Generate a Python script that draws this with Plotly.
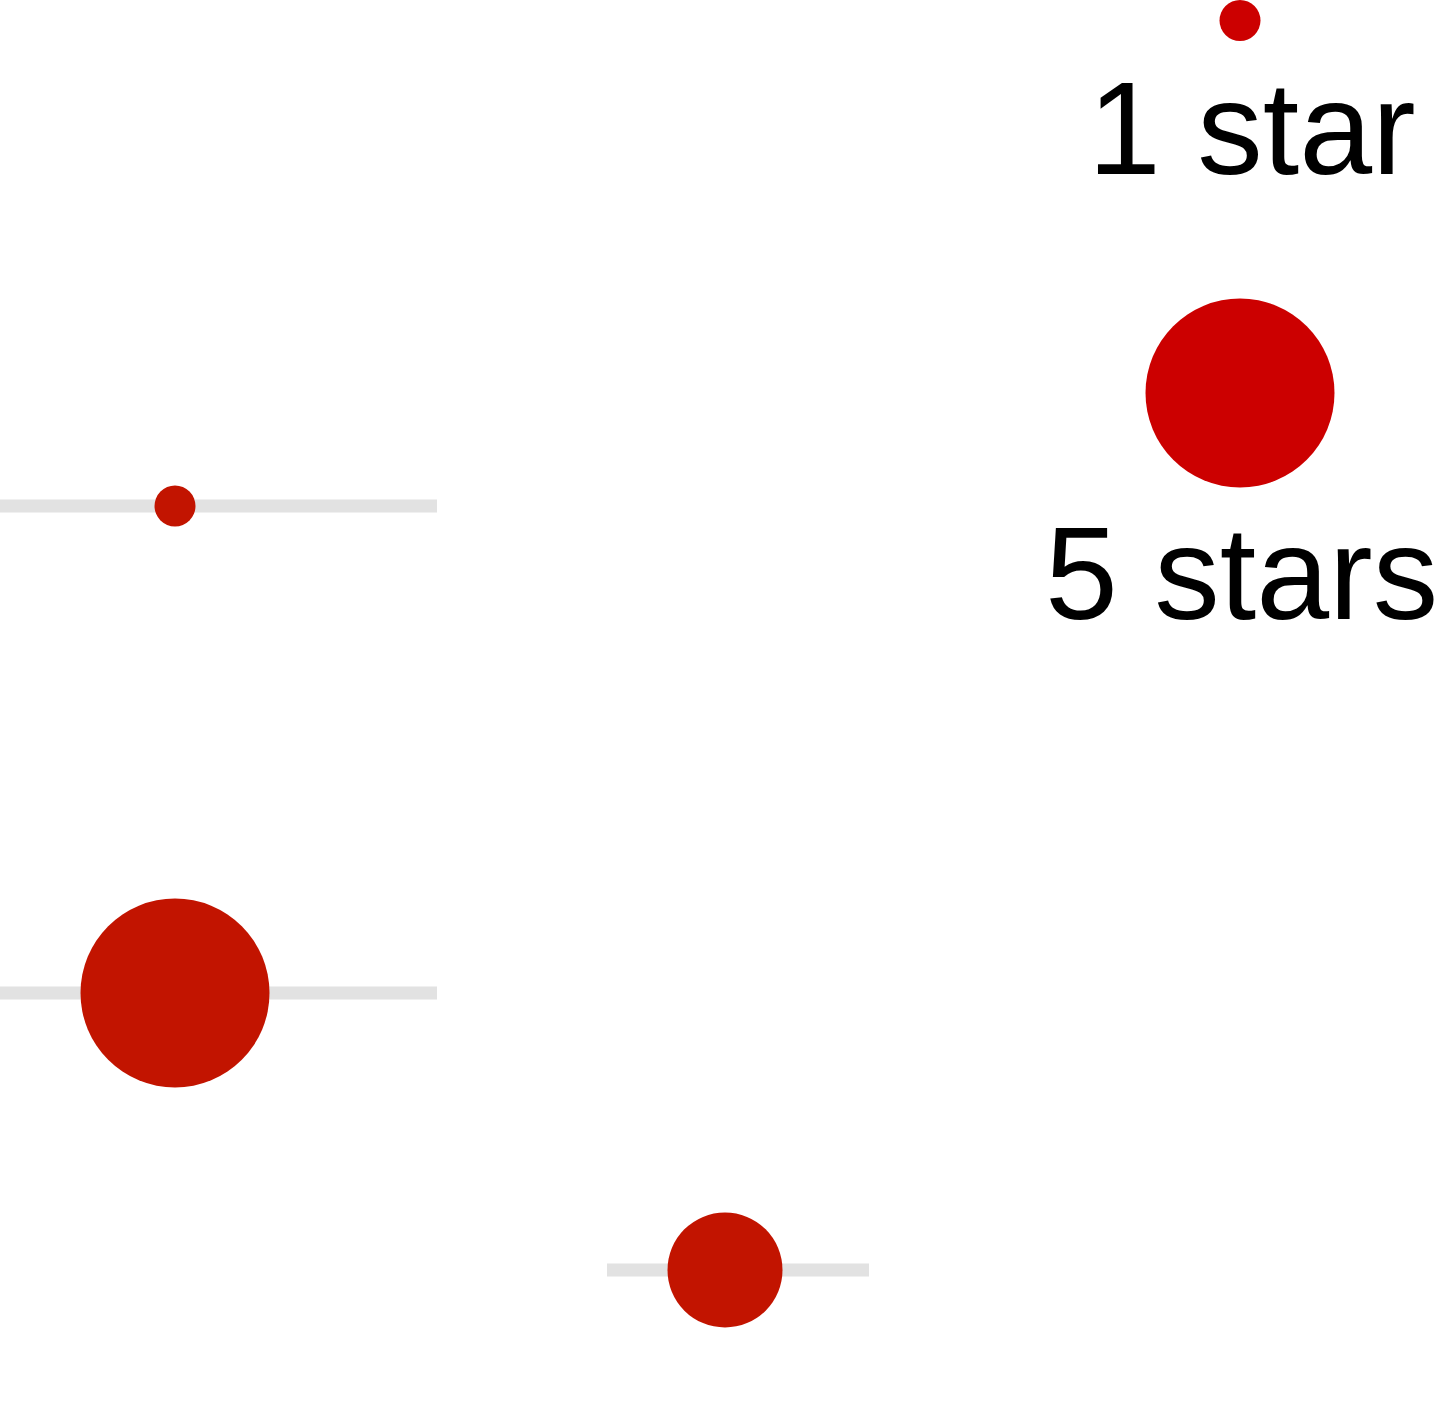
import plotly.graph_objects as go

# --- data ---
item_pos = [506, 993, 1270]          # vertical position of each item
item_value = [175, 175, 725]         # horizontal position of the dot
range_low = [0, 0, 607]              # start of grey range bar
range_high = [437, 437, 869]         # end of grey range bar
item_stars = [1, 5, 3]               # star rating -> dot size

legend_stars = [1, 5]
legend_labels = ["1 star", "5 stars"]
legend_x = [1240, 1240]
legend_label_x = [1252, 1241]
legend_dot_y = [20.5, 393]
legend_label_y = [128, 573]

def star_size(s):
    return 4 + 37 * s

fig = go.Figure()

for lo, hi, y in zip(range_low, range_high, item_pos):
    fig.add_trace(go.Scatter(
        x=[lo, hi], y=[y, y], mode="lines",
        line=dict(color="#e2e2e2", width=13),
        hoverinfo="skip", showlegend=False))

fig.add_trace(go.Scatter(
    x=item_value, y=item_pos, mode="markers",
    marker=dict(color="#c21400", opacity=1,
                size=[star_size(s) for s in item_stars],
                line=dict(width=0)),
    showlegend=False))

fig.add_trace(go.Scatter(
    x=legend_x, y=legend_dot_y, mode="markers",
    marker=dict(color="#cc0000", opacity=1,
                size=[star_size(s) for s in legend_stars],
                line=dict(width=0)),
    showlegend=False))

for x, y, t in zip(legend_label_x, legend_label_y, legend_labels):
    fig.add_annotation(x=x, y=y, text=t, showarrow=False,
                       xanchor="center", yanchor="middle",
                       font=dict(family="Liberation Sans, Arial, sans-serif",
                                 size=131, color="#000000"))

fig.update_layout(
    width=1438, height=1427,
    margin=dict(l=0, r=0, t=0, b=0),
    paper_bgcolor="white", plot_bgcolor="white",
    xaxis=dict(range=[0, 1438], visible=False, fixedrange=True),
    yaxis=dict(range=[1427, 0], visible=False, fixedrange=True),
)

fig.write_html("out.html", config={"displayModeBar": False})
